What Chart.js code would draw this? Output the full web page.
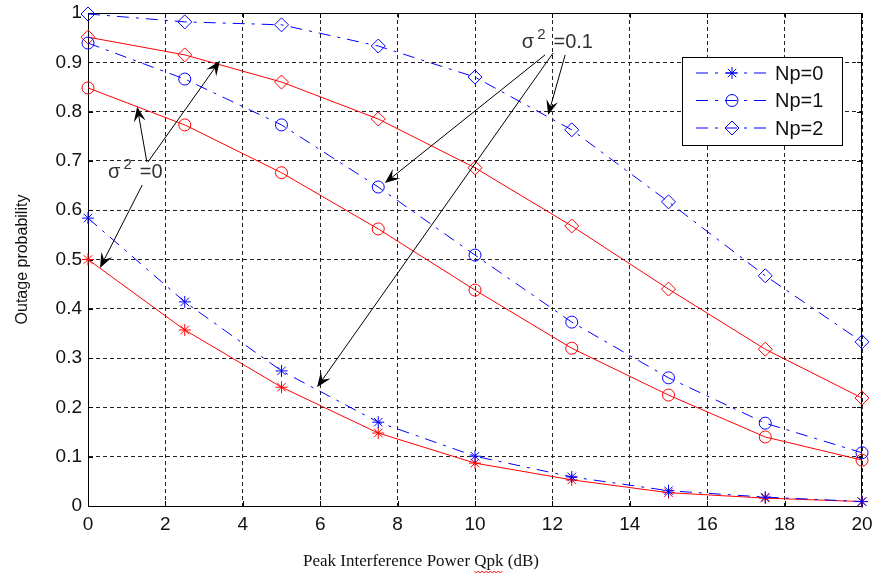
<!DOCTYPE html>
<html>
<head>
<meta charset="utf-8">
<script src="https://cdn.jsdelivr.net/npm/chart.js@4.4.1/dist/chart.umd.min.js"></script>
<style>
    html, body { margin: 0; padding: 0; background: #fff; }
    #graphique { display: block; }
</style>
</head>
<body>
<canvas id="graphique" width="876" height="576" style="width: 876px; height: 576px;"></canvas>
<script>
// donnees
var puissances = [0, 2.5, 5, 7.5, 10, 12.5, 15, 17.5, 20];

var np0Sigma0 = [0.500, 0.357, 0.241, 0.148, 0.087, 0.053, 0.027, 0.016, 0.009];
var np0Sigma01 = [0.584, 0.414, 0.274, 0.170, 0.101, 0.059, 0.031, 0.018, 0.009];
var np1Sigma0 = [0.848, 0.773, 0.676, 0.562, 0.438, 0.320, 0.225, 0.140, 0.093];
var np1Sigma01 = [0.939, 0.866, 0.773, 0.647, 0.509, 0.373, 0.260, 0.168, 0.108];
var np2Sigma0 = [0.951, 0.915, 0.860, 0.785, 0.686, 0.568, 0.440, 0.318, 0.219];
var np2Sigma01 = [0.998, 0.982, 0.976, 0.933, 0.870, 0.763, 0.617, 0.467, 0.333];

var graduationsX = [0, 2, 4, 6, 8, 10, 12, 14, 16, 18, 20];
var graduationsY = [0, 0.1, 0.2, 0.3, 0.4, 0.5, 0.6, 0.7, 0.8, 0.9, 1];

var legendeTextes = ['Np=0', 'Np=1', 'Np=2'];
var legendeMarques = ['star', 'circle', 'rectRot'];

// annotations (en unites des axes) : [xQueue, yQueue, xPointe, yPointe]
var flechesSigma0 = [[1.52, 0.698, 1.27, 0.810], [1.55, 0.698, 3.41, 0.903], [1.40, 0.651, 0.31, 0.483]];
var flechesSigma01 = [[11.81, 0.915, 7.67, 0.655], [12.02, 0.919, 5.92, 0.241], [12.33, 0.915, 11.89, 0.793]];
var texteSigma0 = { x: 0.52, y: 0.665, suite: '=0' };
var texteSigma01 = { x: 11.21, y: 0.929, suite: '=0.1' };

var titreX = 'Peak Interference Power Qpk (dB)';
var titreY = 'Outage probability';

var BLEU = '#0000ff';
var ROUGE = '#ff0000';
var TIRETS = [12, 7, 3, 7];
var POLICE = 'Arial, "Liberation Sans", sans-serif';

function Points(valeurs) {
    var pts = [];
    var i = 0;
    while (i < valeurs.length) {
        pts.push({ x: puissances[i], y: valeurs[i] });
        i++;
    }
    return pts;
}

function Serie(nom, valeurs, couleur, marque, tirets) {
    return {
        label: nom,
        data: Points(valeurs),
        borderColor: couleur,
        backgroundColor: 'rgba(0,0,0,0)',
        borderWidth: 1,
        borderDash: tirets,
        pointStyle: marque,
        pointRadius: marque === 'rectRot' ? 7 : 6,
        pointBorderColor: couleur,
        pointBackgroundColor: 'rgba(0,0,0,0)',
        pointBorderWidth: 1,
        tension: 0,
        clip: false
    };
}

function DessinerMarque(ctx, marque, x, y) {
    var r = marque === 'rectRot' ? 7 : 6;
    ctx.fillStyle = 'rgba(0,0,0,0)';
    if (Chart.helpers && Chart.helpers.drawPoint) {
        Chart.helpers.drawPoint(ctx, { pointStyle: marque, radius: r, rotation: 0, borderWidth: 1 }, x, y);
        return;
    }
    ctx.beginPath();
    ctx.arc(x, y, r, 0, Math.PI * 2);
    ctx.stroke();
}

function DessinerFleche(ctx, x1, y1, x2, y2) {
    var a = Math.atan2(y2 - y1, x2 - x1);
    var L = 15, W = 6;
    ctx.save();
    ctx.strokeStyle = '#000';
    ctx.fillStyle = '#000';
    ctx.lineWidth = 1;
    ctx.beginPath();
    ctx.moveTo(x1, y1);
    ctx.lineTo(x2 - Math.cos(a) * 8, y2 - Math.sin(a) * 8);
    ctx.stroke();
    ctx.translate(x2, y2);
    ctx.rotate(a);
    ctx.beginPath();
    ctx.moveTo(0, 0);
    ctx.lineTo(-L, -W);
    ctx.lineTo(-L * 0.6, 0);
    ctx.lineTo(-L, W);
    ctx.closePath();
    ctx.fill();
    ctx.restore();
}

function DessinerSigma(ctx, x, y, suite) {
    ctx.save();
    ctx.fillStyle = '#333';
    ctx.textBaseline = 'alphabetic';
    ctx.textAlign = 'left';
    ctx.font = '20px ' + POLICE;
    ctx.fillText('\u03c3', x, y);
    var w = ctx.measureText('\u03c3').width;
    ctx.font = '15px ' + POLICE;
    ctx.fillText('2', x + w + 3, y - 9);
    var w2 = ctx.measureText('2').width;
    ctx.font = '20px ' + POLICE;
    ctx.fillText(suite, x + w + w2 + 11, y);
    ctx.restore();
}

var pluginCadre = {
    id: 'cadre',
    beforeDatasetsDraw: function (chart) {
        var ctx = chart.ctx;
        var a = chart.chartArea;
        var sx = chart.scales.x, sy = chart.scales.y;
        ctx.save();
        ctx.strokeStyle = '#000';
        ctx.lineWidth = 1;
        ctx.strokeRect(a.left + 0.5, a.top + 0.5, a.right - a.left - 1, a.bottom - a.top);
        ctx.beginPath();
        graduationsX.forEach(function (v) {
            var px = Math.round(sx.getPixelForValue(v)) + 0.5;
            ctx.moveTo(px, a.bottom); ctx.lineTo(px, a.bottom - 5);
            ctx.moveTo(px, a.top); ctx.lineTo(px, a.top + 5);
        });
        graduationsY.forEach(function (v) {
            var py = Math.round(sy.getPixelForValue(v)) + 0.5;
            ctx.moveTo(a.left, py); ctx.lineTo(a.left + 5, py);
            ctx.moveTo(a.right, py); ctx.lineTo(a.right - 5, py);
        });
        ctx.stroke();
        ctx.restore();
    }
};

var pluginAnnotations = {
    id: 'annotations',
    afterDatasetsDraw: function (chart) {
        var ctx = chart.ctx;
        var sx = chart.scales.x, sy = chart.scales.y;
        flechesSigma0.concat(flechesSigma01).forEach(function (f) {
            DessinerFleche(ctx, sx.getPixelForValue(f[0]), sy.getPixelForValue(f[1]),
                sx.getPixelForValue(f[2]), sy.getPixelForValue(f[3]));
        });
        [texteSigma0, texteSigma01].forEach(function (t) {
            DessinerSigma(ctx, sx.getPixelForValue(t.x), sy.getPixelForValue(t.y), t.suite);
        });
    }
};

var pluginLegende = {
    id: 'legendeBoite',
    afterDraw: function (chart) {
        var ctx = chart.ctx;
        var a = chart.chartArea;
        var x0 = a.right - 180, y0 = a.top + 44, larg = 160, haut = 88;
        ctx.save();
        ctx.fillStyle = '#fff';
        ctx.fillRect(x0, y0, larg, haut);
        ctx.strokeStyle = '#000';
        ctx.lineWidth = 1;
        ctx.strokeRect(x0 + 0.5, y0 + 0.5, larg, haut);
        var i = 0;
        while (i < legendeTextes.length) {
            var y = y0 + 16 + i * 27.5;
            ctx.strokeStyle = BLEU;
            ctx.lineWidth = 1;
            ctx.setLineDash(TIRETS);
            ctx.beginPath();
            ctx.moveTo(x0 + 14, y);
            ctx.lineTo(x0 + 88, y);
            ctx.stroke();
            ctx.setLineDash([]);
            DessinerMarque(ctx, legendeMarques[i], x0 + 50, y);
            ctx.fillStyle = '#111';
            ctx.font = '20px ' + POLICE;
            ctx.textBaseline = 'middle';
            ctx.textAlign = 'left';
            ctx.fillText(legendeTextes[i], x0 + 93, y + 1);
            i++;
        }
        // titre de l'axe x (centre sur la figure, comme dans l'original)
        ctx.fillStyle = '#111';
        ctx.font = '17px "Liberation Serif", "Times New Roman", serif';
        ctx.textAlign = 'left';
        ctx.textBaseline = 'alphabetic';
        var largeurTitre = ctx.measureText(titreX).width;
        var tx = 421 - largeurTitre / 2;
        var ty = 566;
        ctx.fillText(titreX, tx, ty);
        // soulignement ondule sous "Qpk"
        var debut = ctx.measureText('Peak Interference Power ').width;
        var lq = ctx.measureText('Qpk').width;
        ctx.strokeStyle = ROUGE;
        ctx.lineWidth = 1;
        ctx.beginPath();
        var k = 0;
        for (var px = tx + debut; px <= tx + debut + lq; px += 2) {
            var py = ty + 5 + (k % 2 === 0 ? 0 : 2);
            if (k === 0) ctx.moveTo(px, py); else ctx.lineTo(px, py);
            k++;
        }
        ctx.stroke();
        ctx.restore();
    }
};

var ctx = document.getElementById('graphique').getContext('2d');

var graphique = new Chart(ctx, {
    type: 'line',
    data: {
        datasets: [
            Serie('Np=0', np0Sigma01, BLEU, 'star', TIRETS),
            Serie('Np=1', np1Sigma01, BLEU, 'circle', TIRETS),
            Serie('Np=2', np2Sigma01, BLEU, 'rectRot', TIRETS),
            Serie('Np=0 s0', np0Sigma0, ROUGE, 'star', []),
            Serie('Np=1 s0', np1Sigma0, ROUGE, 'circle', []),
            Serie('Np=2 s0', np2Sigma0, ROUGE, 'rectRot', [])
        ]
    },
    options: {
        responsive: false,
        devicePixelRatio: 1,
        animation: false,
        layout: { padding: { left: 0, top: 13, right: 14, bottom: 0 } },
        plugins: {
            legend: { display: false },
            tooltip: { enabled: false },
            title: { display: false }
        },
        scales: {
            x: {
                type: 'linear',
                min: 0,
                max: 20,
                afterBuildTicks: function (s) { s.ticks = graduationsX.map(function (v) { return { value: v }; }); },
                afterFit: function (s) { s.height = 70; s.paddingLeft = 0; s.paddingRight = 0; },
                grid: { color: '#222', lineWidth: 1, drawTicks: false },
                border: { display: true, color: '#000', width: 1, dash: [4, 3] },
                ticks: {
                    padding: 7,
                    color: '#111',
                    maxRotation: 0,
                    font: { family: POLICE, size: 19 }
                },
                title: { display: false }
            },
            y: {
                type: 'linear',
                min: 0,
                max: 1,
                afterBuildTicks: function (s) { s.ticks = graduationsY.map(function (v) { return { value: v }; }); },
                afterFit: function (s) { s.width = 88; s.paddingTop = 0; s.paddingBottom = 0; },
                grid: { color: '#222', lineWidth: 1, drawTicks: false },
                border: { display: true, color: '#000', width: 1, dash: [4, 3] },
                ticks: {
                    padding: 6,
                    color: '#111',
                    font: { family: POLICE, size: 19 },
                    callback: function (v) { return (v === 0 || v === 1) ? String(v) : v.toFixed(1); }
                },
                title: {
                    display: true,
                    text: titreY,
                    color: '#111',
                    font: { family: POLICE, size: 16 },
                    padding: { top: 13, bottom: 0 }
                }
            }
        }
    },
    plugins: [pluginCadre, pluginAnnotations, pluginLegende]
});
</script>
</body>
</html>
